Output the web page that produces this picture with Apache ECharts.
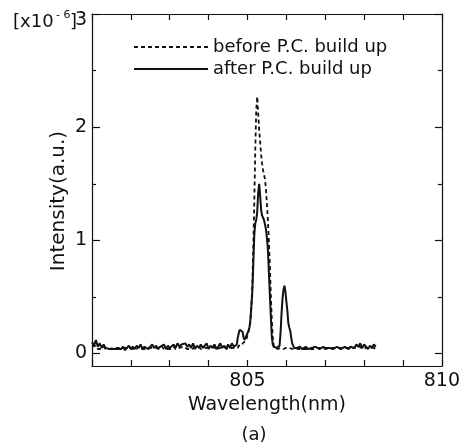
<!DOCTYPE html>
<html>
<head>
<meta charset="utf-8">
<script src="https://cdn.jsdelivr.net/npm/echarts@6/dist/echarts.min.js"></script>
<style>
  html, body { margin: 0; padding: 0; background: #fff; }
  #main { width: 463px; height: 446px; }
</style>
</head>
<body>
<div id="main"></div>
<script>
// wavelength grid (nm): coarse baseline on both sides, finer through the peak
let wavelengthLeft = [
    801.00, 801.05, 801.10, 801.15, 801.20, 801.25, 801.30, 801.35, 801.40, 801.45,
    801.50, 801.55, 801.60, 801.65, 801.70, 801.75, 801.80, 801.85, 801.90, 801.95,
    802.00, 802.05, 802.10, 802.15, 802.20, 802.25, 802.30, 802.35, 802.40, 802.45,
    802.50, 802.55, 802.60, 802.65, 802.70, 802.75, 802.80, 802.85, 802.90, 802.95,
    803.00, 803.05, 803.10, 803.15, 803.20, 803.25, 803.30, 803.35, 803.40, 803.45,
    803.50, 803.55, 803.60, 803.65, 803.70, 803.75, 803.80, 803.85, 803.90, 803.95,
    804.00, 804.05, 804.10, 804.15, 804.20, 804.25, 804.30, 804.35, 804.40, 804.45,
    804.50, 804.55, 804.60, 804.65
];
let wavelengthPeak = [
    804.675, 804.700, 804.725, 804.750, 804.775, 804.800, 804.825, 804.850, 804.875, 804.900,
    804.925, 804.950, 804.975, 805.000, 805.025, 805.050, 805.075, 805.100, 805.125, 805.150,
    805.175, 805.200, 805.225, 805.250, 805.275, 805.300, 805.325, 805.350, 805.375, 805.400,
    805.425, 805.450, 805.475, 805.500, 805.525, 805.550, 805.575, 805.600, 805.625, 805.650,
    805.675, 805.700, 805.725, 805.750, 805.775, 805.800, 805.825, 805.850, 805.875, 805.900,
    805.925, 805.950, 805.975, 806.000, 806.025, 806.050, 806.075, 806.100, 806.125, 806.150,
    806.175, 806.200, 806.225, 806.250, 806.275
];
let wavelengthRight = [
    806.30, 806.35, 806.40, 806.45, 806.50, 806.55, 806.60, 806.65, 806.70, 806.75,
    806.80, 806.85, 806.90, 806.95, 807.00, 807.05, 807.10, 807.15, 807.20, 807.25,
    807.30, 807.35, 807.40, 807.45, 807.50, 807.55, 807.60, 807.65, 807.70, 807.75,
    807.80, 807.85, 807.90, 807.95, 808.00, 808.05, 808.10, 808.15, 808.20, 808.25,
    808.30
];

// before P.C. build up (dashed), x1e-6
let beforeLeft = [
    0.06, 0.05, 0.07, 0.04, 0.05, 0.04, 0.06, 0.04, 0.05, 0.04,
    0.04, 0.05, 0.04, 0.05, 0.04, 0.05, 0.04, 0.05, 0.04, 0.05,
    0.05, 0.04, 0.05, 0.04, 0.06, 0.04, 0.05, 0.04, 0.05, 0.05,
    0.04, 0.05, 0.04, 0.05, 0.05, 0.04, 0.06, 0.04, 0.05, 0.04,
    0.05, 0.04, 0.06, 0.04, 0.05, 0.05, 0.04, 0.06, 0.05, 0.04,
    0.05, 0.04, 0.05, 0.05, 0.04, 0.06, 0.04, 0.05, 0.05, 0.04,
    0.05, 0.04, 0.06, 0.05, 0.04, 0.05, 0.05, 0.04, 0.06, 0.05,
    0.04, 0.05, 0.05, 0.04
];
let beforePeak = [
    0.05, 0.04, 0.06, 0.05, 0.07, 0.06, 0.08, 0.07, 0.09, 0.08,
    0.10, 0.11, 0.13, 0.16, 0.19, 0.23, 0.28, 0.42, 0.60, 0.95,
    1.35, 1.80, 2.15, 2.27, 2.12, 1.98, 1.87, 1.76, 1.68, 1.62,
    1.58, 1.54, 1.45, 1.32, 1.18, 1.00, 0.78, 0.52, 0.30, 0.14,
    0.07, 0.05, 0.04, 0.05, 0.04, 0.05, 0.04, 0.05, 0.04, 0.05,
    0.04, 0.05, 0.04, 0.05, 0.05, 0.04, 0.05, 0.04, 0.05, 0.04,
    0.05, 0.04, 0.05, 0.04, 0.05
];
let beforeRight = [
    0.04, 0.05, 0.04, 0.05, 0.04, 0.05, 0.04, 0.05, 0.04, 0.05,
    0.05, 0.04, 0.05, 0.04, 0.05, 0.04, 0.05, 0.04, 0.05, 0.04,
    0.05, 0.04, 0.05, 0.04, 0.05, 0.04, 0.05, 0.04, 0.05, 0.04,
    0.05, 0.04, 0.06, 0.04, 0.05, 0.05, 0.04, 0.05, 0.04, 0.05,
    0.04
];

// after P.C. build up (solid), x1e-6
let afterLeft = [
    0.10, 0.07, 0.12, 0.06, 0.09, 0.05, 0.08, 0.05, 0.06, 0.04,
    0.05, 0.04, 0.05, 0.04, 0.05, 0.04, 0.06, 0.03, 0.05, 0.07,
    0.04, 0.06, 0.04, 0.07, 0.05, 0.08, 0.04, 0.06, 0.05, 0.04,
    0.06, 0.08, 0.05, 0.07, 0.04, 0.06, 0.05, 0.08, 0.04, 0.07,
    0.05, 0.06, 0.08, 0.05, 0.09, 0.06, 0.08, 0.07, 0.09, 0.06,
    0.08, 0.05, 0.09, 0.04, 0.07, 0.05, 0.08, 0.05, 0.06, 0.09,
    0.04, 0.07, 0.05, 0.08, 0.04, 0.06, 0.09, 0.05, 0.07, 0.04,
    0.08, 0.05, 0.09, 0.06
];
let afterPeak = [
    0.05, 0.06, 0.08, 0.14, 0.18, 0.21, 0.22, 0.21, 0.19, 0.14,
    0.12, 0.11, 0.13, 0.18, 0.20, 0.23, 0.30, 0.42, 0.55, 0.80,
    1.05, 1.15, 1.18, 1.25, 1.42, 1.50, 1.40, 1.27, 1.22, 1.21,
    1.18, 1.14, 1.10, 1.02, 0.92, 0.72, 0.52, 0.33, 0.15, 0.08,
    0.06, 0.05, 0.06, 0.05, 0.04, 0.05, 0.07, 0.18, 0.35, 0.48,
    0.56, 0.60, 0.55, 0.46, 0.38, 0.27, 0.23, 0.20, 0.14, 0.09,
    0.07, 0.05, 0.06, 0.04, 0.05
];
let afterRight = [
    0.05, 0.06, 0.04, 0.05, 0.06, 0.04, 0.05, 0.05, 0.04, 0.06,
    0.05, 0.04, 0.05, 0.06, 0.04, 0.05, 0.05, 0.06, 0.04, 0.05,
    0.06, 0.05, 0.04, 0.05, 0.06, 0.05, 0.04, 0.06, 0.05, 0.05,
    0.08, 0.06, 0.09, 0.05, 0.08, 0.06, 0.04, 0.07, 0.05, 0.08,
    0.06
];

let yMajorTicks = [0, 1, 2, 3];
let yMinorTicks = [0.5, 1.5, 2.5];
let xLabels = [805, 810];

let wavelength = wavelengthLeft.concat(wavelengthPeak, wavelengthRight);
let before = beforeLeft.concat(beforePeak, beforeRight);
let after = afterLeft.concat(afterPeak, afterRight);

let font = 'DejaVu Sans';
let ink = '#111';

let chartDom = document.getElementById('main');
let myChart = echarts.init(chartDom, null, { renderer: 'canvas' });

// shared look for the frame axes
function frameAxis(extra) {
    return Object.assign({
        axisLine: { show: true, onZero: false, lineStyle: { color: ink, width: 1.2 } },
        axisTick: { show: true, inside: true, length: 6, lineStyle: { color: ink, width: 1.2 } },
        axisLabel: { show: false },
        splitLine: { show: false }
    }, extra);
}

let option = {
    animation: false,
    backgroundColor: '#fff',
    grid: { left: 92, right: 20, top: 14, bottom: 80 },
    legend: {
        orient: 'vertical',
        left: 128,
        top: 33,
        itemWidth: 74,
        itemHeight: 14,
        itemGap: 4,
        // hide the marker dot, keep only the line sample
        itemStyle: { color: 'rgba(0,0,0,0)', borderWidth: 0, opacity: 0 },
        textStyle: { fontFamily: font, fontSize: 18, color: ink, lineHeight: 18 },
        data: ['before P.C. build up', 'after P.C. build up']
    },
    xAxis: [
        frameAxis({
            type: 'value', position: 'bottom', min: 801, max: 810, interval: 1,
            axisLabel: {
                show: true, margin: 6, color: ink, fontFamily: font, fontSize: 19,
                formatter: v => xLabels.indexOf(v) >= 0 ? String(v) : ''
            },
            name: 'Wavelength(nm)',
            nameLocation: 'middle',
            nameGap: 22,
            nameTextStyle: { fontFamily: font, fontSize: 19, color: ink, verticalAlign: 'top' }
        }),
        frameAxis({ type: 'value', position: 'top', min: 801, max: 810, interval: 1 })
    ],
    yAxis: [
        frameAxis({
            type: 'value', position: 'left', min: -0.11, max: 3,
            axisTick: { show: true, inside: true, length: 8, customValues: yMajorTicks,
                lineStyle: { color: ink, width: 1.2 } },
            axisLabel: {
                show: true, margin: 5, color: ink, fontFamily: font, fontSize: 19,
                customValues: yMajorTicks,
                formatter: v => v === 3 ? '{t|3}' : String(v),
                rich: { t: { fontFamily: font, fontSize: 19, color: ink, padding: [12, 0, 0, 0] } }
            }
        }),
        frameAxis({
            type: 'value', position: 'left', min: -0.11, max: 3,
            axisLine: { show: false },
            axisTick: { show: true, inside: true, length: 4, customValues: yMinorTicks,
                lineStyle: { color: ink, width: 1.2 } }
        }),
        frameAxis({
            type: 'value', position: 'right', min: -0.11, max: 3,
            axisTick: { show: true, inside: true, length: 7, customValues: yMajorTicks,
                lineStyle: { color: ink, width: 1.2 } }
        }),
        frameAxis({
            type: 'value', position: 'right', min: -0.11, max: 3,
            axisLine: { show: false },
            axisTick: { show: true, inside: true, length: 4, customValues: yMinorTicks,
                lineStyle: { color: ink, width: 1.2 } }
        })
    ],
    graphic: [
        { type: 'text', left: 13, top: 13, style: { text: '[x10', fontFamily: font, fontSize: 18, fill: ink } },
        { type: 'text', left: 56, top: 10, style: { text: '- 6', fontFamily: font, fontSize: 11, fill: ink } },
        { type: 'text', left: 70, top: 13, style: { text: ']', fontFamily: font, fontSize: 18, fill: ink } },
        {
            type: 'text', x: 59, y: 201, rotation: Math.PI / 2,
            style: { text: 'Intensity(a.u.)', fontFamily: font, fontSize: 20, fill: ink,
                align: 'center', verticalAlign: 'middle' }
        },
        {
            type: 'text', x: 254, y: 435,
            style: { text: '(a)', fontFamily: font, fontSize: 18, fill: ink,
                align: 'center', verticalAlign: 'middle' }
        }
    ],
    series: [
        {
            name: 'before P.C. build up',
            type: 'line',
            xAxisIndex: 0,
            yAxisIndex: 0,
            data: wavelength.map((w, i) => [w, before[i]]),
            showSymbol: false,
            symbol: 'none',
            lineStyle: { color: ink, width: 1.8, type: [4, 3] },
            itemStyle: { color: ink },
            emphasis: { disabled: true },
            z: 2
        },
        {
            name: 'after P.C. build up',
            type: 'line',
            xAxisIndex: 0,
            yAxisIndex: 0,
            data: wavelength.map((w, i) => [w, after[i]]),
            showSymbol: false,
            symbol: 'none',
            lineStyle: { color: ink, width: 2, type: 'solid' },
            itemStyle: { color: ink },
            emphasis: { disabled: true },
            z: 3
        }
    ]
};

option && myChart.setOption(option);
</script>
</body>
</html>
